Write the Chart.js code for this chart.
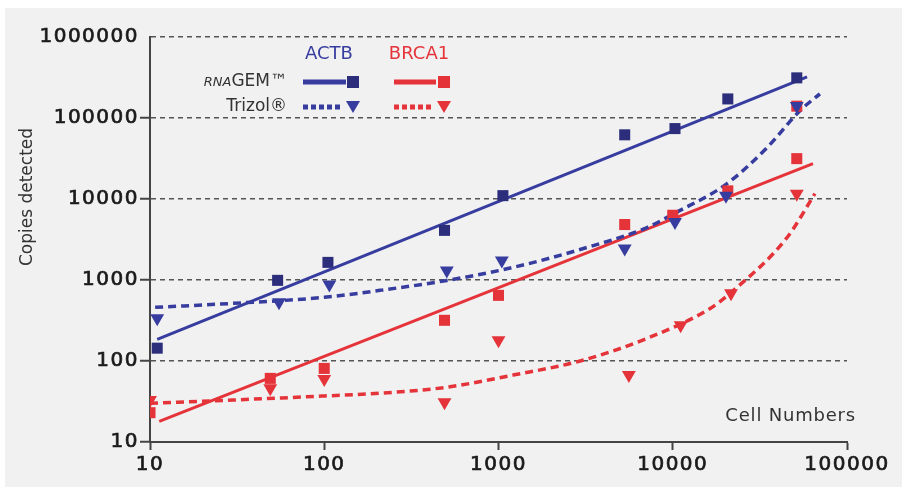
<!DOCTYPE html>
<html>
<head>
<meta charset="utf-8">
<script src="https://cdn.jsdelivr.net/npm/chart.js@4/dist/chart.umd.min.js"></script>
<style>
  html, body { margin: 0; padding: 0; background: #ffffff; }
  #chart { display: block; }
</style>
</head>
<body>
<canvas id="chart" width="902" height="488"></canvas>
<script>
// ==================== DATA ====================
// axis ticks
const xTicks = [10, 100, 1000, 10000, 100000];
const yTicks = [10, 100, 1000, 10000, 100000, 1000000];

// ACTB, RNAGEM (squares)
const actbGemX = [11, 54, 105, 490, 1060, 5300, 10300, 20700, 51500];
const actbGemY = [144, 990, 1650, 4100, 11000, 62000, 74000, 172000, 313000];
// ACTB, Trizol (triangles)
const actbTriX = [11, 55, 107, 505, 1045, 5300, 10300, 20200, 51500];
const actbTriY = [337, 530, 883, 1310, 1740, 2450, 5200, 11000, 141000];
// BRCA1, RNAGEM (squares)
const brcaGemX = [10, 49, 100, 490, 1000, 5300, 10000, 20700, 51500, 51500];
const brcaGemY = [23, 61, 81, 318, 646, 4840, 6300, 12600, 31500, 140000];
// BRCA1, Trizol (triangles)
const brcaTriX = [10, 49, 100, 490, 1000, 5600, 11100, 21600, 51500];
const brcaTriY = [33, 46, 60, 31, 180, 67, 276, 684, 11600];

// fitted trend lines
const actbGemFitX = [11, 59000];
const actbGemFitY = [185, 321000];
const brcaGemFitX = [11.3, 63800];
const brcaGemFitY = [18, 27300];
const actbTriFitX = [10.7, 30, 100, 209, 506, 1210, 2940, 7110, 10300, 20500, 34700, 53700, 69900];
const actbTriFitY = [460, 515, 611, 745, 988, 1430, 2380, 4440, 6700, 15500, 43000, 123000, 199000];
const brcaTriFitX = [10, 30, 100, 209, 506, 1210, 2940, 7110, 16400, 21300, 45300, 65500];
const brcaTriFitY = [30, 33, 37, 40, 47.5, 67, 100, 190, 446, 684, 3350, 11650];

// ==================== STYLE ====================
const BLUE_DARK = '#2c2e7c';
const BLUE = '#373c9f';
const RED = '#e5333a';
const AXIS = '#444444';
const FONT = '"DejaVu Sans", sans-serif';

function pts(xs, ys) {
    return xs.map((x, i) => ({ x: x, y: ys[i] }));
}

// ==================== PLUGINS ====================
const panelPlugin = {
    id: 'panel',
    beforeDraw(chart) {
        const ctx = chart.ctx;
        ctx.save();
        ctx.fillStyle = '#f1f1f1';
        ctx.fillRect(5, 8, 897, 479);
        ctx.restore();
        // wider tracking for tick numbers
        ctx.letterSpacing = '1.5px';
    },
    beforeDatasetsDraw(chart) {
        chart.ctx.letterSpacing = '0px';
    },
    afterDraw(chart) {
        const ctx = chart.ctx;
        ctx.save();
        ctx.letterSpacing = '0px';
        ctx.textBaseline = 'middle';

        // axis title
        ctx.save();
        ctx.translate(28, 197);
        ctx.rotate(-Math.PI / 2);
        ctx.textAlign = 'center';
        ctx.fillStyle = '#333333';
        ctx.font = '17px ' + FONT;
        ctx.fillText('Copies detected', 0, 0);
        ctx.restore();

        ctx.textAlign = 'right';
        ctx.fillStyle = '#333333';
        ctx.font = '18px ' + FONT;
        ctx.letterSpacing = '0.8px';
        ctx.fillText('Cell Numbers', 856, 416);
        ctx.letterSpacing = '0px';

        // legend headers
        ctx.textAlign = 'center';
        ctx.font = '18px ' + FONT;
        ctx.fillStyle = BLUE;
        ctx.fillText('ACTB', 329, 54);
        ctx.fillStyle = RED;
        ctx.fillText('BRCA1', 419, 54);

        // legend row labels
        ctx.textAlign = 'right';
        ctx.fillStyle = '#333333';
        ctx.font = '17px ' + FONT;
        ctx.fillText('GEM\u2122', 287, 82);
        const gemW = ctx.measureText('GEM\u2122').width;
        ctx.font = 'italic 13px ' + FONT;
        ctx.fillText('RNA', 287 - gemW, 83);
        ctx.font = '17px ' + FONT;
        ctx.fillText('Trizol\u00ae', 287, 107);

        // legend samples
        function sample(x0, x1, y, color, dash) {
            ctx.save();
            ctx.strokeStyle = color;
            ctx.lineWidth = 5;
            ctx.setLineDash(dash);
            ctx.beginPath();
            ctx.moveTo(x0, y);
            ctx.lineTo(x1, y);
            ctx.stroke();
            ctx.restore();
        }
        function square(cx, cy, color) {
            ctx.fillStyle = color;
            ctx.fillRect(cx - 6, cy - 6, 12, 12);
        }
        function tri(cx, cy, color) {
            ctx.fillStyle = color;
            ctx.beginPath();
            ctx.moveTo(cx - 7, cy - 6);
            ctx.lineTo(cx + 7, cy - 6);
            ctx.lineTo(cx, cy + 6);
            ctx.closePath();
            ctx.fill();
        }
        sample(303, 346, 82, BLUE, []);
        square(353, 82, BLUE_DARK);
        sample(394, 436, 82, RED, []);
        square(444, 82, RED);
        sample(303, 343, 107, BLUE, [5, 3]);
        tri(353, 107, BLUE);
        sample(394, 434, 107, RED, [5, 3]);
        tri(444, 107, RED);

        ctx.restore();
    }
};

// ==================== CHART ====================
function markerSet(data, color, style) {
    return {
        data: data,
        showLine: false,
        pointStyle: style,
        rotation: style === 'triangle' ? 180 : 0,
        pointRadius: style === 'triangle' ? 8 : 7.8,
        pointBackgroundColor: color,
        pointBorderColor: color,
        pointBorderWidth: 0
    };
}

function fitSet(data, color, dash, width) {
    return {
        data: data,
        showLine: true,
        pointRadius: 0,
        borderColor: color,
        borderWidth: width,
        borderDash: dash,
        cubicInterpolationMode: 'monotone',
        fill: false
    };
}

const ctx = document.getElementById('chart').getContext('2d');
const chart = new Chart(ctx, {
    type: 'scatter',
    data: {
        datasets: [
            markerSet(pts(actbTriX, actbTriY), BLUE, 'triangle'),
            markerSet(pts(actbGemX, actbGemY), BLUE_DARK, 'rect'),
            markerSet(pts(brcaTriX, brcaTriY), RED, 'triangle'),
            markerSet(pts(brcaGemX, brcaGemY), RED, 'rect'),
            fitSet(pts(actbTriFitX, actbTriFitY), BLUE, [8, 5], 3.5),
            fitSet(pts(actbGemFitX, actbGemFitY), BLUE, [], 3),
            fitSet(pts(brcaTriFitX, brcaTriFitY), RED, [8, 5], 3.5),
            fitSet(pts(brcaGemFitX, brcaGemFitY), RED, [], 3)
        ]
    },
    options: {
        responsive: false,
        animation: false,
        layout: { padding: { left: 5, top: 37, right: 55, bottom: 0 } },
        plugins: {
            legend: { display: false },
            tooltip: { enabled: false }
        },
        scales: {
            x: {
                type: 'logarithmic',
                min: 10,
                max: 100000,
                afterBuildTicks: s => { s.ticks = xTicks.map(v => ({ value: v })); },
                afterFit: s => { s.height = 46; },
                grid: {
                    drawOnChartArea: false,
                    drawTicks: true,
                    tickLength: 8,
                    tickWidth: 2,
                    tickColor: AXIS
                },
                border: { display: true, color: AXIS, width: 2 },
                ticks: {
                    autoSkip: false,
                    maxRotation: 0,
                    padding: 3,
                    color: '#1a1a1a',
                    textStrokeColor: '#1a1a1a',
                    textStrokeWidth: 0.7,
                    font: { family: FONT, size: 20 },
                    callback: v => String(v)
                }
            },
            y: {
                type: 'logarithmic',
                min: 10,
                max: 1000000,
                afterBuildTicks: s => { s.ticks = yTicks.map(v => ({ value: v })); },
                afterFit: s => { s.width = 145; },
                grid: {
                    color: '#555555',
                    lineWidth: 1.5,
                    drawTicks: true,
                    tickLength: 10,
                    tickWidth: 2,
                    tickColor: c => (c.tick && c.tick.value === 1000000) ? 'rgba(0,0,0,0)' : AXIS
                },
                border: { display: true, color: AXIS, width: 2, dash: [5, 4] },
                ticks: {
                    padding: 1,
                    color: '#1a1a1a',
                    textStrokeColor: '#1a1a1a',
                    textStrokeWidth: 0.7,
                    font: { family: FONT, size: 20 },
                    callback: v => String(v)
                }
            }
        }
    },
    plugins: [panelPlugin]
});
</script>
</body>
</html>
